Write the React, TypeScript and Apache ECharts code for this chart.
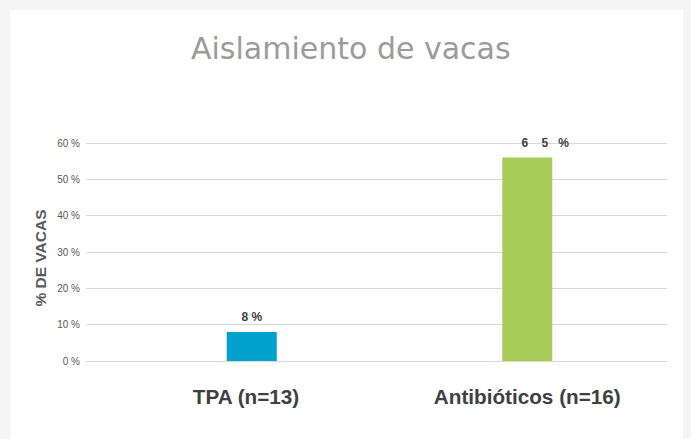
import React, { useEffect, useRef } from "react";
import * as echarts from "echarts";

const categories = ["TPA (n=13)", "Antibióticos (n=16)"];
const values = [8, 56];
const valueLabels = ["8 %", "6\u00A0\u00A0\u00A0\u00A05\u00A0\u00A0\u00A0%"];
const barColors = ["#00A2CD", "#A9CB57"];
const yTicks = [0, 10, 20, 30, 40, 50, 60];
const yAxisTitle = "% DE VACAS";

export default function App() {
  const ref = useRef<HTMLDivElement>(null);
  useEffect(() => {
    if (!ref.current) return;
    const chart = echarts.init(ref.current, null, { renderer: "svg" });
    chart.setOption({
      animation: false,
      backgroundColor: "#f5f5f5",
      graphic: [
        { type: "rect", shape: { x: 10, y: 10, width: 673, height: 440 }, style: { fill: "#ffffff" }, z: -10 },
        {
          type: "text",
          x: 40,
          y: 258,
          rotation: Math.PI / 2,
          style: {
            text: yAxisTitle,
            align: "center",
            verticalAlign: "middle",
            fontFamily: "Liberation Sans",
            fontSize: 15.5,
            fontWeight: "bold",
            fill: "#595959",
          },
        },
      ],
      title: {
        text: "Aislamiento de vacas",
        left: 186,
        top: 28,
        textStyle: { fontFamily: "DejaVu Sans", fontSize: 30, fontWeight: "normal", color: "#9b9b9b" },
      },
      grid: [
        { left: 86, right: 24, top: 143, bottom: 78, containLabel: false },
        { left: 114, right: 26, top: 143, bottom: 78, containLabel: false },
      ],
      xAxis: [
        { type: "category", gridIndex: 0, data: categories, show: false },
        {
          type: "category",
          gridIndex: 1,
          data: categories,
          axisLine: { show: false },
          axisTick: { show: false },
          axisLabel: {
            margin: 25,
            fontFamily: "Liberation Sans",
            fontSize: 20.7,
            fontWeight: "bold",
            color: "#404040",
            formatter: (v: string, i: number) => (i === 0 ? v + "\u00A0\u00A0" : v),
          },
        },
      ],
      yAxis: [
        {
          type: "value",
          gridIndex: 0,
          min: 0,
          max: 60,
          interval: 10,
          axisLine: { show: false },
          axisTick: { show: false },
          splitLine: { lineStyle: { color: "#d9d9d9", width: 1 } },
          axisLabel: {
            margin: 6,
            fontFamily: "Liberation Sans",
            fontSize: 10,
            color: "#595959",
            formatter: (v: number) => (yTicks.includes(v) ? `${v} %` : ""),
          },
        },
        { type: "value", gridIndex: 1, min: 0, max: 60, interval: 10, show: false, splitLine: { show: false } },
      ],
      series: [
        {
          type: "bar",
          xAxisIndex: 1,
          yAxisIndex: 1,
          barWidth: 50,
          data: values.map((v, i) => ({
            value: v,
            itemStyle: { color: barColors[i] },
            label: i === 1 ? { offset: [18, 0] } : undefined,
          })),
          label: {
            show: true,
            position: "top",
            distance: 9,
            fontFamily: "Liberation Sans",
            fontSize: 12,
            fontWeight: "bold",
            color: "#404040",
            formatter: (p: any) => valueLabels[p.dataIndex],
          },
        },
      ],
    });
    return () => chart.dispose();
  }, []);
  return (
    <div style={{ position: "fixed", left: 0, top: 0, width: 691, height: 439 }}>
      <div ref={ref} style={{ width: 691, height: 439 }} />
    </div>
  );
}
